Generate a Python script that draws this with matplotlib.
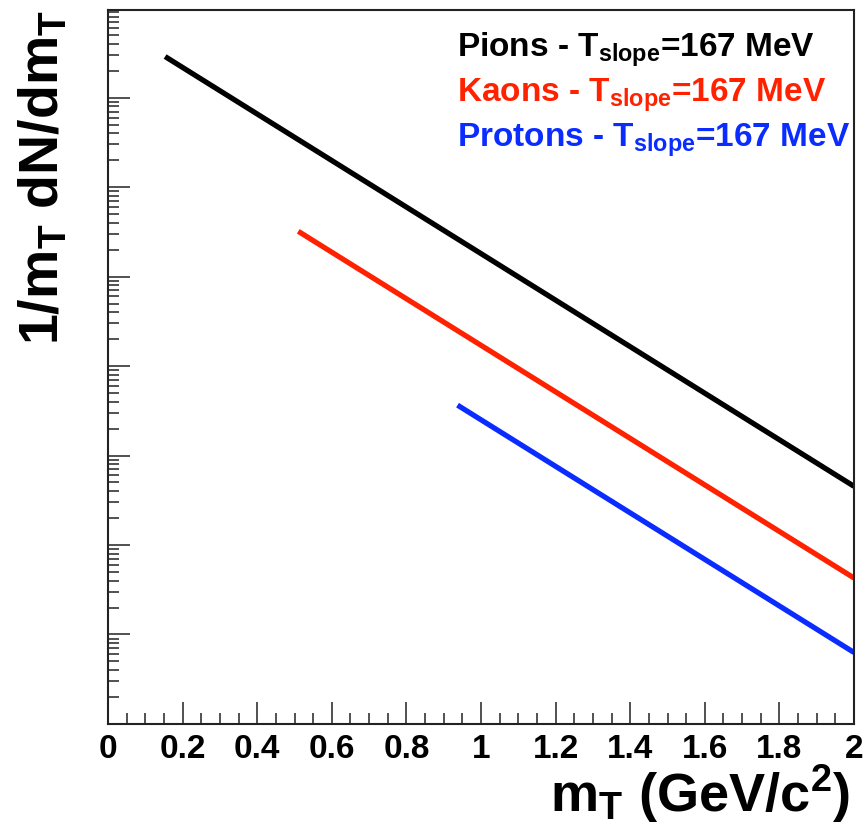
import numpy as np
import matplotlib
matplotlib.use('Agg')
import matplotlib.pyplot as plt
from matplotlib.ticker import LogLocator, NullFormatter, MultipleLocator

plt.rcParams['font.family'] = ['Liberation Sans', 'DejaVu Sans']
plt.rcParams['font.weight'] = 'bold'
plt.rcParams['mathtext.fontset'] = 'custom'
plt.rcParams['mathtext.rm'] = 'Liberation Sans:bold'
plt.rcParams['mathtext.it'] = 'Liberation Sans:bold'
plt.rcParams['mathtext.bf'] = 'Liberation Sans:bold'
plt.rcParams['mathtext.default'] = 'rm'

# Espectros em m_T: 1/m_T dN/dm_T = A * exp(-m_T / T_slope)
especies = ['Pions', 'Kaons', 'Protons']
massas = [0.153, 0.51, 0.937]          # inicio de cada curva (GeV/c^2)
amplitudes = [7.2e4, 6.8e3, 1.0e3]     # normalizacao de cada especie
t_slope = [0.167, 0.167, 0.167]        # GeV
cores = ['#000000', '#ff2200', '#0a2cff']
mt_max = 2.0

fig = plt.figure(figsize=(8.65, 8.24), dpi=100)
ax = fig.add_axes([0.1249, 0.1214, 0.8624, 0.8665])

for nome, m0, A, T, cor in zip(especies, massas, amplitudes, t_slope, cores):
    mt = np.linspace(m0, mt_max, 300)
    ax.plot(mt, A * np.exp(-mt / T), color=cor, lw=3.8, solid_capstyle='butt')

ax.set_yscale('log')
ax.set_xlim(0, 2)
ax.set_ylim(1e-3, 10**4.98)

ax.xaxis.set_minor_locator(MultipleLocator(0.05))
ax.set_xticks([0, 0.2, 0.4, 0.6, 0.8, 1, 1.2, 1.4, 1.6, 1.8, 2])
ax.set_xticklabels(['0', '0.2', '0.4', '0.6', '0.8', '1', '1.2', '1.4', '1.6', '1.8', '2'])
ax.yaxis.set_major_locator(LogLocator(base=10, numticks=20))
ax.yaxis.set_minor_locator(LogLocator(base=10, subs=np.arange(2, 10), numticks=20))
ax.yaxis.set_major_formatter(NullFormatter())
ax.yaxis.set_minor_formatter(NullFormatter())

ax.tick_params(which='both', direction='in', top=False, right=False, width=1.1, color='#222222')
ax.tick_params(which='major', length=16)
ax.tick_params(which='minor', length=8)
ax.tick_params(axis='x', which='major', labelsize=24, pad=7)
for lab in ax.get_xticklabels():
    lab.set_fontweight('bold')
for s in ax.spines.values():
    s.set_linewidth(1.5)
    s.set_color('#222222')

ax.set_xlabel(r'm$_{\rm T}$ (GeV/c$^{2}$)', fontsize=39, fontweight='bold', ha='right', va='baseline')
ax.xaxis.set_label_coords(0.9946, -0.1225)
ax.set_ylabel(r'1/m$_{\rm T}$ dN/dm$_{\rm T}$', fontsize=40, fontweight='bold', loc='top', labelpad=24)

ys = [0.935, 0.872, 0.809]
for nome, T, cor, y in zip(especies, t_slope, cores, ys):
    ax.text(0.468, y, r'%s - T$_{slope}$=%d MeV' % (nome, round(T * 1000)),
            transform=ax.transAxes, color=cor, fontsize=24, fontweight='bold', va='baseline')

fig.savefig('out.png', dpi=100)
